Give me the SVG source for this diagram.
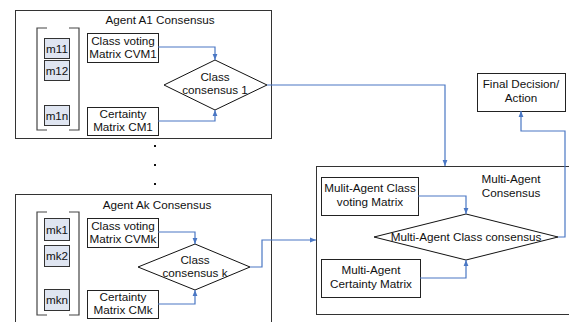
<svg xmlns="http://www.w3.org/2000/svg" width="569" height="322" viewBox="0 0 569 322">
  <style>
    text { font-family: "Liberation Sans", Arial, sans-serif; font-size: 11.7px; fill: #111; text-anchor: middle; }
    .frame { fill: #fff; stroke: #333; stroke-width: 1; }
    .box { fill: #fff; stroke: #222; stroke-width: 1; }
    .mbox { fill: #dfe5f1; stroke: #333; stroke-width: 1; }
    .dia { fill: #fff; stroke: #111; stroke-width: 1; }
    .bracket { fill: none; stroke: #444; stroke-width: 1.2; }
    .link { fill: none; stroke: #4a77c4; stroke-width: 1.2; }
    .dot { fill: #111; }
  </style>
  <defs>
    <marker id="arrow" viewBox="0 0 10 10" refX="10" refY="5" markerWidth="6" markerHeight="6" orient="auto" markerUnits="userSpaceOnUse">
      <path d="M0,1 L10,5 L0,9 z" fill="#4a77c4"/>
    </marker>
  </defs>
  <rect width="569" height="322" fill="#fff"/>

  <!-- Agent A1 -->
  <g id="agent-a1">
    <rect class="frame" x="15.5" y="10.5" width="256" height="128"/>
    <text x="160" y="24">Agent A1 Consensus</text>
    <path class="bracket" d="M47,28 H37 V130 H47 M69,28 H79 V130 H69"/>
    <g id="m11"><rect class="mbox" x="44.5" y="38.5" width="25" height="20"/><text x="57" y="52.5">m11</text></g>
    <g id="m12"><rect class="mbox" x="44.5" y="60.5" width="25" height="20"/><text x="57" y="74.5">m12</text></g>
    <g id="m1n"><rect class="mbox" x="44.5" y="105.5" width="25" height="20"/><text x="57" y="119.5">m1n</text></g>
    <g id="cvm1"><rect class="box" x="87.5" y="33.5" width="71" height="29"/><text x="123" y="45">Class voting</text><text x="123" y="58">Matrix CVM1</text></g>
    <g id="cm1"><rect class="box" x="87.5" y="107.5" width="71" height="28"/><text x="123" y="118">Certainty</text><text x="123" y="131">Matrix CM1</text></g>
    <g id="cc1"><polygon class="dia" points="215,60 267,85 215,110 164,85"/><text x="215" y="81">Class</text><text x="215" y="94">consensus 1</text></g>
  </g>

  <!-- continuation dots -->
  <g id="ellipsis">
    <rect class="dot" x="154" y="145" width="2" height="2"/>
    <rect class="dot" x="154" y="164" width="2" height="2"/>
    <rect class="dot" x="154" y="183" width="2" height="2"/>
  </g>

  <!-- Agent Ak -->
  <g id="agent-ak">
    <rect class="frame" x="15.5" y="194.5" width="256" height="140"/>
    <text x="157" y="209">Agent Ak Consensus</text>
    <path class="bracket" d="M47,212 H37 V315 H47 M69,212 H79 V315 H69"/>
    <g id="mk1"><rect class="mbox" x="44.5" y="218.5" width="25" height="22"/><text x="57" y="233.5">mk1</text></g>
    <g id="mk2"><rect class="mbox" x="44.5" y="245.5" width="25" height="21"/><text x="57" y="260">mk2</text></g>
    <g id="mkn"><rect class="mbox" x="44.5" y="289.5" width="25" height="21"/><text x="57" y="304">mkn</text></g>
    <g id="cvmk"><rect class="box" x="87.5" y="218.5" width="71" height="29"/><text x="123" y="229.5">Class voting</text><text x="123" y="243">Matrix CVMk</text></g>
    <g id="cmk"><rect class="box" x="87.5" y="290.5" width="71" height="28"/><text x="123" y="300.5">Certainty</text><text x="123" y="314">Matrix CMk</text></g>
    <g id="cck"><polygon class="dia" points="195,244 250,267 195,290 138,267"/><text x="195" y="264">Class</text><text x="195" y="277">consensus k</text></g>
  </g>

  <!-- Multi-agent stage -->
  <g id="multi-agent">
    <rect class="frame" x="316.5" y="166.5" width="260" height="148"/>
    <text x="511" y="183">Multi-Agent</text>
    <text x="511" y="197">Consensus</text>
    <g id="ma-cv"><rect class="box" x="321.5" y="177.5" width="97" height="38"/><text x="370" y="192">Mulit-Agent Class</text><text x="370" y="206">voting Matrix</text></g>
    <g id="ma-cm"><rect class="box" x="321.5" y="259.5" width="99" height="38"/><text x="371" y="274">Multi-Agent</text><text x="371" y="288">Certainty Matrix</text></g>
    <g id="ma-cc"><polygon class="dia" points="466,214 558,237 466,260 374,237"/><text x="466" y="241">Multi-Agent Class consensus</text></g>
  </g>

  <g id="final">
    <rect class="box" x="477.5" y="73.5" width="88" height="38"/>
    <text x="521" y="88">Final Decision/</text>
    <text x="521" y="102">Action</text>
  </g>

  <!-- connectors -->
  <g id="connectors">
    <path class="link" d="M158,47 H215 V60" marker-end="url(#arrow)"/>
    <path class="link" d="M158,121 H215 V110" marker-end="url(#arrow)"/>
    <path class="link" d="M267,85 H445 V166" marker-end="url(#arrow)"/>
    <path class="link" d="M158,232 H195 V244" marker-end="url(#arrow)"/>
    <path class="link" d="M158,304 H195 V290" marker-end="url(#arrow)"/>
    <path class="link" d="M250,267 H262 V240 H316" marker-end="url(#arrow)"/>
    <path class="link" d="M418,196 H466 V214" marker-end="url(#arrow)"/>
    <path class="link" d="M420,278 H466 V260" marker-end="url(#arrow)"/>
    <path class="link" d="M558,237 H565 V131 H521 V111" marker-end="url(#arrow)"/>
  </g>
</svg>
